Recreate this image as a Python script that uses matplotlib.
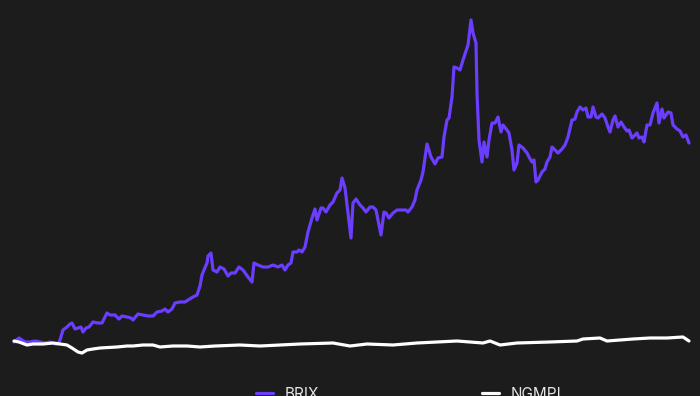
import matplotlib
matplotlib.use("Agg")
import matplotlib.pyplot as plt

# Index levels (start = 100) sampled against days since launch
brix_days = [0, 15, 33, 48, 63, 78, 93, 108, 123, 132, 138, 147, 159, 168, 174, 183, 192, 201, 207, 216,
             225, 237, 252, 264, 279, 288, 303, 315, 324, 339, 351, 357, 372, 387, 402, 417, 429, 444, 453, 462,
             474, 483, 498, 513, 522, 537, 549, 558, 564, 570, 579, 582, 591, 597, 609, 618, 630, 642, 651, 663,
             675, 687, 702, 714, 720, 732, 747, 762, 777, 792, 804, 813, 822, 831, 837, 849, 855, 864, 873, 882,
             894, 903, 909, 921, 927, 936, 948, 957, 969, 978, 984, 993, 1002, 1011, 1017, 1026, 1038, 1047, 1056, 1068,
             1077, 1086, 1095, 1101, 1110, 1116, 1125, 1137, 1149, 1164, 1176, 1182, 1194, 1203, 1209, 1221, 1227, 1239, 1251, 1263,
             1272, 1284, 1290, 1299, 1305, 1314, 1320, 1329, 1338, 1347, 1362, 1371, 1377, 1386, 1389, 1395, 1404, 1410, 1419, 1425,
             1434, 1443, 1452, 1461, 1467, 1479, 1485, 1494, 1500, 1509, 1515, 1527, 1539, 1545, 1554, 1560, 1566, 1572, 1584, 1593,
             1599, 1608, 1614, 1623, 1632, 1644, 1653, 1662, 1674, 1683, 1689, 1698, 1707, 1716, 1722, 1731, 1737, 1746, 1752, 1764,
             1773, 1782, 1788, 1797, 1803, 1812, 1821, 1830, 1839, 1845, 1854, 1863, 1869, 1875, 1884, 1890, 1899, 1908, 1917, 1929,
             1935, 1944, 1950, 1962, 1971, 1977, 1989, 1998, 2007, 2016, 2025]
brix_values = [100, 112, 100, 100, 103, 100, 97, 100, 94, 94, 106, 136, 145, 154, 157, 139, 142, 145, 130, 142,
               145, 160, 157, 157, 187, 181, 181, 169, 178, 175, 172, 166, 184, 181, 178, 178, 190, 193, 199, 190,
               199, 217, 220, 220, 226, 235, 241, 268, 301, 316, 337, 358, 367, 316, 310, 325, 319, 298, 307, 307,
               325, 316, 295, 280, 337, 331, 325, 325, 331, 325, 331, 316, 331, 337, 370, 370, 376, 370, 385, 430,
               472, 499, 466, 502, 502, 490, 511, 520, 547, 556, 592, 562, 487, 412, 517, 529, 511, 502, 490, 505,
               505, 496, 451, 421, 490, 487, 472, 487, 496, 496, 496, 490, 505, 526, 556, 586, 610, 694, 655, 634,
               652, 655, 715, 766, 772, 835, 925, 922, 916, 946, 991, 1066, 1027, 997, 847, 706, 640, 700, 655, 706,
               757, 757, 775, 730, 751, 736, 727, 676, 616, 637, 691, 682, 667, 655, 640, 646, 580, 586, 610, 619,
               640, 655, 685, 676, 667, 679, 691, 715, 766, 769, 790, 805, 796, 802, 775, 775, 805, 775, 772, 784,
               772, 745, 730, 766, 778, 745, 760, 745, 733, 736, 712, 721, 727, 712, 715, 700, 751, 751, 787, 817,
               757, 799, 772, 790, 787, 751, 739, 733, 715, 721, 697]

ngmpi_days = [0, 15, 39, 57, 87, 117, 138, 159, 174, 192, 204, 219, 237, 258, 309, 339, 357, 387, 417, 438,
              477, 519, 558, 603, 678, 738, 798, 858, 957, 1008, 1059, 1137, 1209, 1329, 1407, 1428, 1458, 1509, 1608, 1689,
              1707, 1758, 1779, 1857, 1908, 1959, 2007, 2025]
ngmpi_values = [103, 100, 91, 94, 94, 97, 94, 91, 82, 70, 67, 76, 79, 82, 85, 88, 88, 91, 91, 85,
                88, 88, 85, 88, 91, 88, 91, 94, 97, 88, 94, 91, 97, 103, 97, 103, 91, 97, 100, 103,
                109, 112, 103, 109, 112, 112, 115, 103]

series_names = ["BRIX", "NGMPI"]
series_colors = ["#6a3dff", "#ffffff"]
bg = "#1c1c1c"

fig = plt.figure(figsize=(7.0, 3.96), dpi=100, facecolor=bg)
ax = fig.add_axes([0, 0, 1, 1])
ax.set_facecolor(bg)

l1, = ax.plot(brix_days, brix_values, color=series_colors[0], lw=2.3,
              solid_joinstyle="round", solid_capstyle="round", label=series_names[0])
l2, = ax.plot(ngmpi_days, ngmpi_values, color=series_colors[1], lw=2.3,
              solid_joinstyle="round", solid_capstyle="round", label=series_names[1])

ax.set_xlim(-42, 2058)
ax.set_ylim(-62, 1126)
ax.axis("off")

legend_x = [256 / 700, 482 / 700]
for handle, x in zip([l1, l2], legend_x):
    leg = fig.legend(handles=[handle], loc="center left", bbox_to_anchor=(x, 0.005),
                     frameon=False, borderpad=0, borderaxespad=0, handlelength=1.1,
                     handletextpad=0.75, prop={"family": "Inter", "size": 11})
    for t in leg.get_texts():
        t.set_color("#e6e6e6")

fig.savefig("out.png", dpi=100, facecolor=bg)
